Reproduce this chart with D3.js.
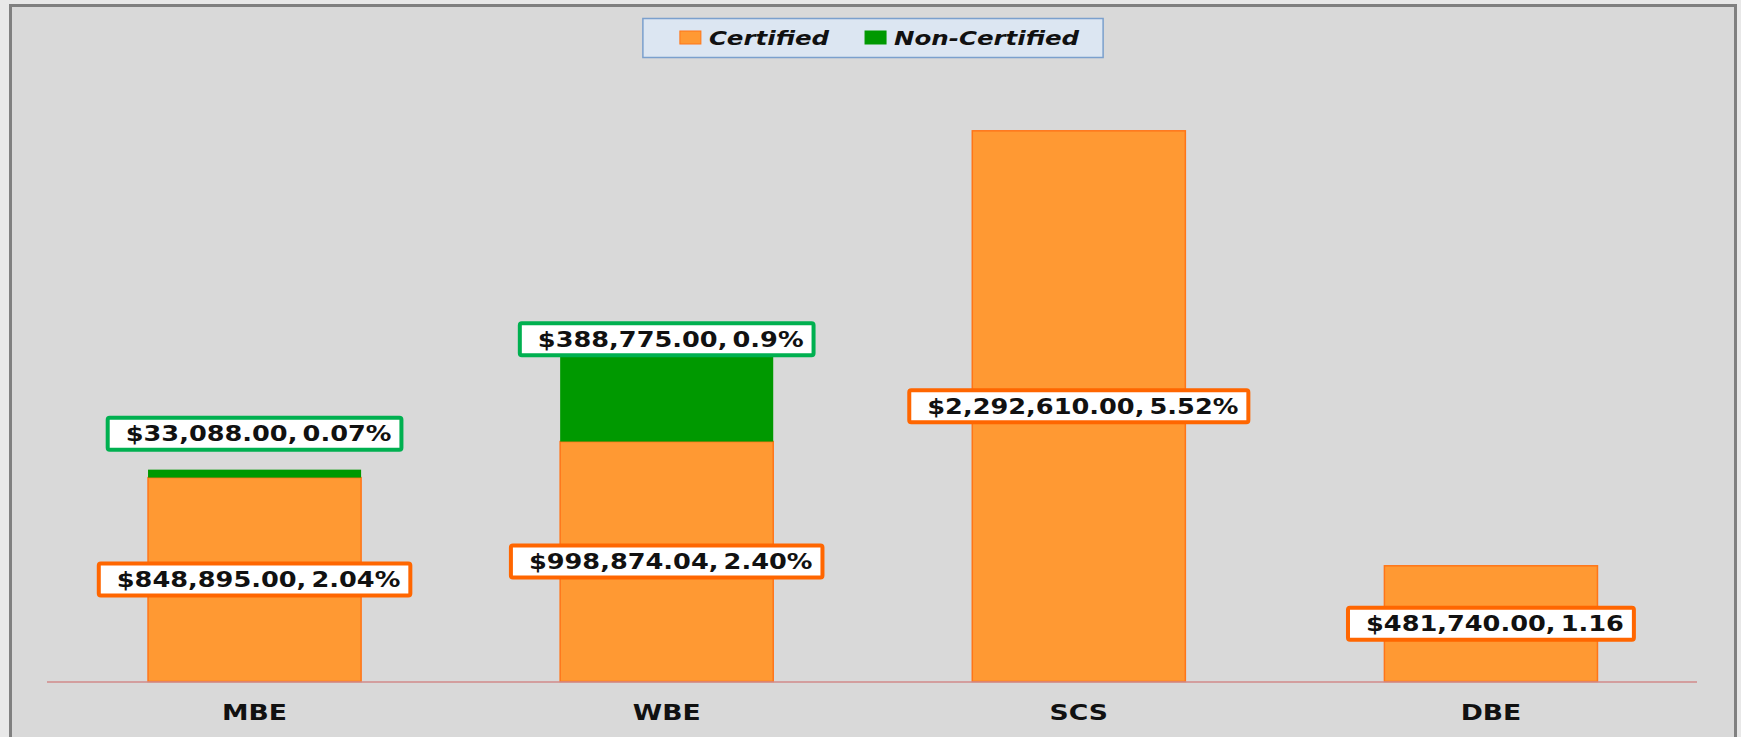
<!DOCTYPE html>
<html>
<head>
<meta charset="utf-8">
<script src="https://cdn.jsdelivr.net/npm/d3@7"></script>
<style>
  html, body { margin: 0; padding: 0; background: #e8e8e8; }
  svg { display: block; }
  text { font-family: "DejaVu Sans", Verdana, sans-serif; font-weight: bold; fill: #111; }
</style>
</head>
<body>
<svg width="1741" height="737"></svg>
<script>
// data
const categories = ["MBE", "WBE", "SCS", "DBE"];
const certified = [848895.00, 998874.04, 2292610.00, 481740.00];
const nonCertified = [33088.00, 388775.00, 0, 0];
const certifiedPct = ["2.04%", "2.40%", "5.52%", "1.16"];
const nonCertifiedPct = ["0.07%", "0.9%", "", ""];
const seriesNames = ["Certified", "Non-Certified"];

// green labels were hand-placed above the stack in the original
const greenLabelLift = { MBE: 36, WBE: 9 };

const svg = d3.select("svg");
const frame = { left: 9, top: 4, right: 1737, bottom: 760 };
const plot = { left: 48.5, right: 1697, top: 81, bottom: 681.5 };

const orange = "#ff9933", orangeEdge = "#ff7518", orangeBox = "#ff6600";
const green = "#009900", greenBox = "#00b050";

svg.append("rect")
  .attr("x", frame.left + 1.5).attr("y", frame.top + 1.5)
  .attr("width", frame.right - frame.left - 3)
  .attr("height", frame.bottom - frame.top)
  .attr("fill", "#d9d9d9")
  .attr("stroke", "#808080")
  .attr("stroke-width", 3);

const data = categories.map((c, i) => ({
  cat: c,
  Certified: certified[i],
  "Non-Certified": nonCertified[i],
  cPct: certifiedPct[i],
  nPct: nonCertifiedPct[i]
}));

const x = d3.scaleBand()
  .domain(categories)
  .range([plot.left, plot.right])
  .paddingInner(0.483)
  .paddingOuter(0.2415);

const y = d3.scaleLinear()
  .domain([0, 2500000])
  .range([plot.bottom, plot.top]);

const color = d3.scaleOrdinal().domain(seriesNames).range([orange, green]);

const stack = d3.stack().keys(seriesNames)(data);

svg.append("g")
  .selectAll("g")
  .data(stack)
  .join("g")
  .attr("fill", d => color(d.key))
  .attr("stroke", d => d.key === "Certified" ? orangeEdge : "none")
  .attr("stroke-width", 1.5)
  .selectAll("rect")
  .data(d => d.filter(s => s[1] - s[0] > 0))
  .join("rect")
  .attr("x", d => x(d.data.cat))
  .attr("y", d => y(d[1]))
  .attr("width", x.bandwidth())
  .attr("height", d => y(d[0]) - y(d[1]));

// axis baseline
svg.append("line")
  .attr("x1", plot.left - 1.5).attr("x2", plot.right)
  .attr("y1", plot.bottom + 0.5).attr("y2", plot.bottom + 0.5)
  .attr("stroke", "#d08a8a")
  .attr("stroke-width", 1.5);

// category labels
svg.append("g")
  .selectAll("text")
  .data(categories)
  .join("text")
  .attr("transform", d => `translate(${x(d) + x.bandwidth() / 2},719.5) scale(1.3,1)`)
  .attr("text-anchor", "middle")
  .style("font-size", "20.5px")
  .text(d => d);

// data labels
const money = d3.format("$,.2f");
const labels = [];
stack.forEach(s => {
  s.forEach(d => {
    const v = d[1] - d[0];
    if (v <= 0) return;
    const isCert = s.key === "Certified";
    const cy = isCert
      ? (y(d[0]) + y(d[1])) / 2
      : y(d[1]) - (greenLabelLift[d.data.cat] || 0);
    labels.push({
      cx: x(d.data.cat) + x.bandwidth() / 2,
      cy: cy,
      text: money(v) + ", " + (isCert ? d.data.cPct : d.data.nPct),
      edge: isCert ? orangeBox : greenBox
    });
  });
});

const lab = svg.append("g")
  .selectAll("g")
  .data(labels)
  .join("g")
  .attr("transform", d => `translate(${d.cx},${d.cy})`);

lab.each(function (d) {
  const g = d3.select(this);
  const box = g.append("rect");
  const t = g.append("text")
    .attr("text-anchor", "middle")
    .attr("transform", "translate(4,7.5) scale(1.25,1)")
    .style("font-size", "20.5px")
    .style("word-spacing", "-3px")
    .text(d.text);
  const w = t.node().getComputedTextLength() * 1.25 + 28;
  box.attr("x", -w / 2).attr("y", -16)
    .attr("width", w).attr("height", 32)
    .attr("rx", 2)
    .attr("fill", "#fff")
    .attr("stroke", d.edge)
    .attr("stroke-width", 4);
});

// legend
const legend = svg.append("g");
const legBox = legend.append("rect")
  .attr("y", 18.5).attr("height", 39)
  .attr("fill", "#dce6f2")
  .attr("stroke", "#7ba0cd")
  .attr("stroke-width", 1.5);

let lx = 0;
const items = legend.append("g");
seriesNames.forEach((name, i) => {
  const it = items.append("g").attr("transform", `translate(${lx},0)`);
  it.append("rect")
    .attr("x", 0).attr("y", 31)
    .attr("width", 21).attr("height", 13)
    .attr("fill", color(name))
    .attr("stroke", i === 0 ? orangeEdge : green);
  const t = it.append("text")
    .attr("transform", "translate(29,45) scale(1.29,1)")
    .style("font-size", "19px")
    .style("font-style", "italic")
    .text(name);
  lx += 29 + t.node().getComputedTextLength() * 1.29 + 36;
});
const itemsW = lx - 36;
const padL = 37, padR = 24;
const legW = itemsW + padL + padR;
const legX = (frame.left + frame.right) / 2 - legW / 2;
legBox.attr("x", legX).attr("width", legW);
items.attr("transform", `translate(${legX + padL},0)`);
</script>
</body>
</html>
